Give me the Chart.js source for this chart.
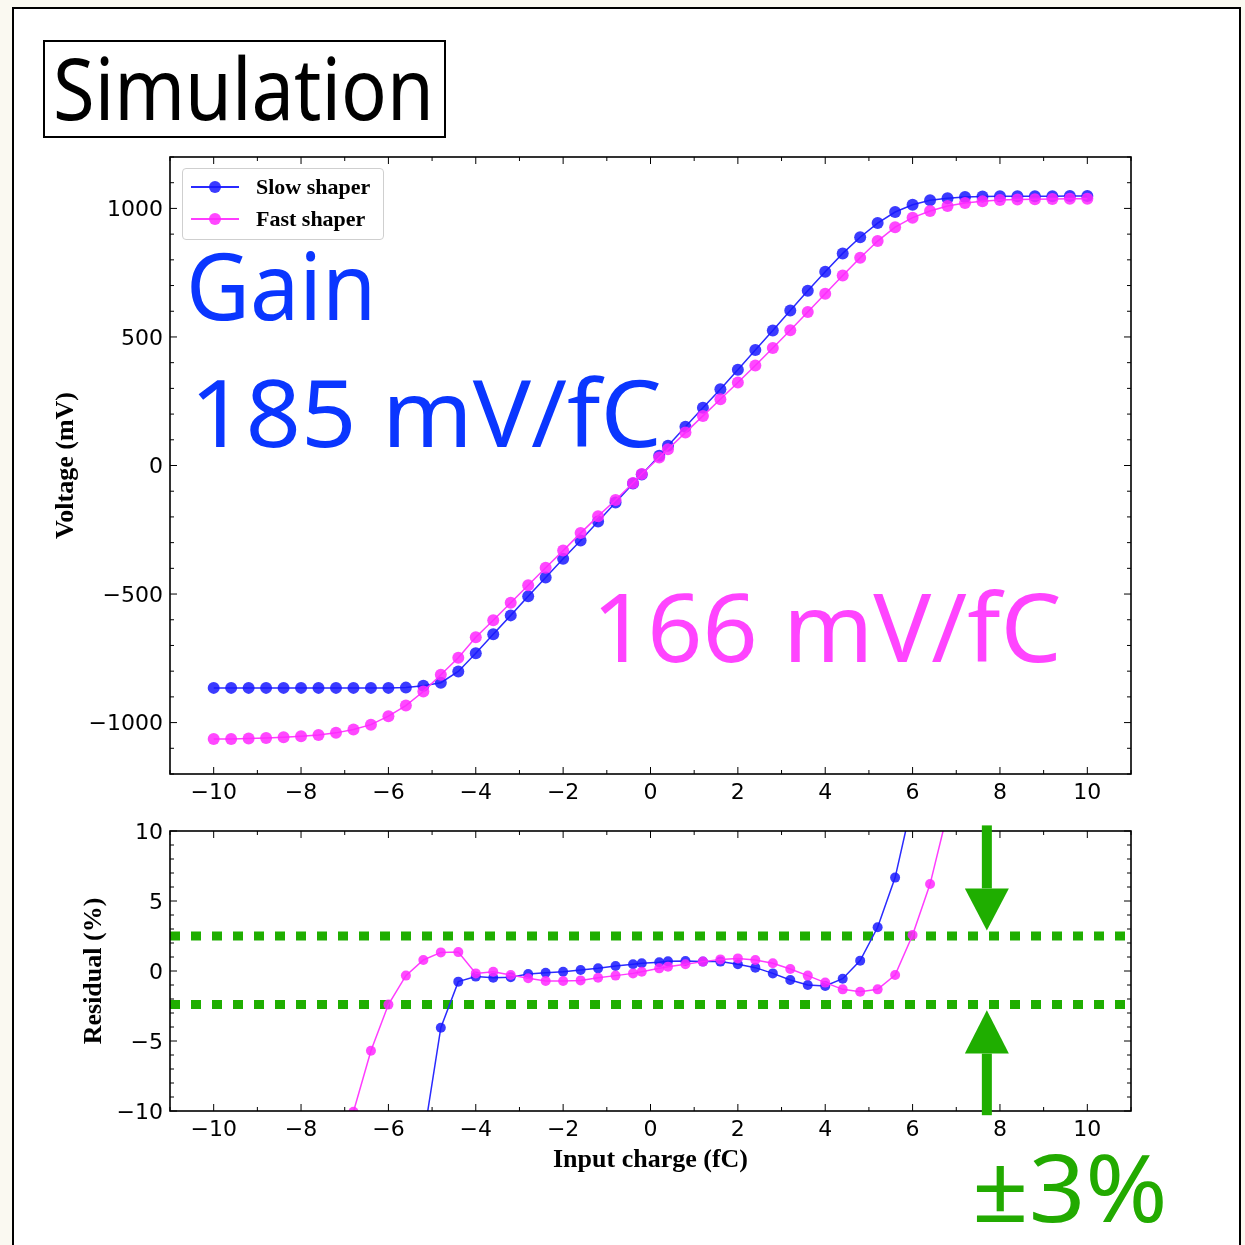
<!DOCTYPE html>
<html>
<head>
<meta charset="utf-8">
<script src="https://cdn.jsdelivr.net/npm/chart.js@4.4.1/dist/chart.umd.min.js"></script>
<style>
html, body { margin: 0; padding: 0; }
body { width: 1245px; height: 1245px; background: #faf9f1; position: relative; overflow: hidden; }
#panel { position: absolute; left: 12px; top: 7px; width: 1225px; height: 1260px; background: #fff; border: 2px solid #000; }
canvas { position: absolute; left: 0; }
#gainChart { top: 0; }
#residualChart { top: 820px; }
.big { position: absolute; white-space: nowrap; font-family: "Noto Sans", sans-serif; line-height: 1; transform-origin: 0 0; }
#simBox { position: absolute; left: 43px; top: 40px; width: 399px; height: 94px; border: 2px solid #000; background: #fff; }
#legend { position: absolute; left: 182px; top: 168px; width: 202px; height: 72px; border: 1px solid #cfcfcf; border-radius: 4px; background: rgba(255,255,255,0.85); box-sizing: border-box; }
#legend .row { position: absolute; left: 0; height: 30px; font-family: "Liberation Serif", serif; font-weight: bold; font-size: 22px; line-height: 30px; }
#legend .sw { position: absolute; left: 8px; top: 14px; width: 48px; height: 2px; }
#legend .dot { position: absolute; left: 26px; top: 9px; width: 12px; height: 12px; border-radius: 50%; }
#legend .lbl { position: absolute; left: 73px; top: 0; white-space: nowrap; }
</style>
</head>
<body>
<div id="panel"></div>
<div id="simBox"></div>
<div class="big" id="simText" style="font-size:85px;color:#000">Simulation</div>

<canvas id="gainChart" width="1245" height="820"></canvas>
<canvas id="residualChart" width="1245" height="425"></canvas>

<div id="legend"></div>
<div class="big" id="gainText" style="font-size:93px;color:#0a36ff">Gain</div>
<div class="big" id="slowGainText" style="font-size:93px;color:#0a36ff">185 mV/fC</div>
<div class="big" id="fastGainText" style="font-size:95px;color:#ff44ff">166 mV/fC</div>
<div class="big" id="bandText" style="font-size:93px;color:#22aa00">±3%</div>

<script>
// ===============================
// DATA
// ===============================

const charge = [-10, -9.6, -9.2, -8.8, -8.4, -8, -7.6, -7.2, -6.8, -6.4, -6, -5.6, -5.2, -4.8, -4.4, -4, -3.6, -3.2, -2.8, -2.4, -2, -1.6, -1.2, -0.8, -0.4, -0.2,
  0.2, 0.4, 0.8, 1.2, 1.6, 2, 2.4, 2.8, 3.2, 3.6, 4, 4.4, 4.8, 5.2, 5.6, 6, 6.4, 6.8, 7.2, 7.6, 8, 8.4, 8.8, 9.2, 9.6, 10];

const slowVoltage = [-865, -865, -865, -865, -865, -865, -865, -865, -865, -865, -865, -864, -857, -845, -801, -730, -656, -583, -509, -436, -363, -292, -218, -144, -70, -35,
  38, 77, 151, 225, 297, 372, 449, 525, 603, 680, 754, 825, 888, 943, 986, 1014, 1032, 1040, 1044, 1046, 1047, 1047, 1047, 1047, 1048, 1048];

const fastVoltage = [-1064, -1064, -1062, -1060, -1057, -1053, -1048, -1040, -1027, -1008, -975, -934, -879, -814, -748, -668, -602, -534, -466, -398, -331, -263, -197, -134, -68, -33,
  31, 63, 128, 193, 258, 323, 389, 457, 526, 597, 668, 739, 808, 873, 927, 964, 990, 1009, 1021, 1028, 1033, 1035, 1036, 1037, 1038, 1038];

const slowResidual = [-113, -105, -96, -88, -79, -71, -62, -54, -45, -36, -28, -19, -12, -4.05, -0.76, -0.4, -0.48, -0.45, -0.21, -0.12, -0.05, 0.07, 0.19, 0.36, 0.48, 0.55,
  0.62, 0.69, 0.71, 0.67, 0.67, 0.48, 0.24, -0.17, -0.64, -1.0, -1.07, -0.55, 0.74, 3.12, 6.67, 12.2, 15, 21, 28, 35, 42, 49, 56, 63, 70, 77];

const fastResidual = [-56, -50, -44, -38, -32, -26, -20, -15, -10.05, -5.7, -2.4, -0.33, 0.79, 1.33, 1.35, -0.17, -0.05, -0.29, -0.52, -0.71, -0.71, -0.67, -0.48, -0.33, -0.17, -0.05,
  0.19, 0.31, 0.48, 0.67, 0.83, 0.9, 0.79, 0.55, 0.14, -0.33, -0.83, -1.31, -1.48, -1.31, -0.29, 2.57, 6.21, 11.3, 17, 23, 28, 35, 41, 47, 54, 60];

const seriesNames = ["Slow shaper", "Fast shaper"];
const chargeTicks = [-10, -8, -6, -4, -2, 0, 2, 4, 6, 8, 10];
const voltageTicks = [-1000, -500, 0, 500, 1000];
const residualTicks = [-10, -5, 0, 5, 10];
const limitBand = [2.5, -2.4];

// annotation arrows (data units of the residual panel)
const arrowCharge = 7.7;
const downArrow = [10.4, 5.9, 2.9];   // tail, head base, tip
const upArrow = [-10.3, -5.9, -2.8];

// ===============================
// STYLE
// ===============================

const slowLine = "#2a2aff";
const slowDot = "rgba(25,25,255,0.85)";
const fastLine = "#ff3cff";
const fastDot = "rgba(255,40,255,0.85)";
const bandGreen = "#1fae00";

const tickFont = { family: "DejaVu Sans", size: 22 };
const titleFont = { family: "Liberation Serif", size: 26, weight: "bold" };

function fmtTick(v) {
  return String(v).replace("-", "\u2212");
}

function points(ys) {
  return charge.map((x, i) => ({ x: x, y: ys[i] }));
}

// ===============================
// FRAME + INWARD TICKS
// ===============================

const frameTicks = {
  id: "frameTicks",
  afterDraw(chart, args, opts) {
    const { ctx, chartArea: a } = chart;
    const sx = chart.scales.x, sy = chart.scales.y;
    ctx.save();
    ctx.strokeStyle = "#000";
    ctx.lineWidth = 1;
    ctx.beginPath();
    const major = 7, minor = 4;
    const xMajor = sx.ticks.map(t => t.value);
    const yMajor = sy.ticks.map(t => t.value);
    for (let v = Math.ceil(sx.min); v <= sx.max; v += opts.xMinor) {
      const px = sx.getPixelForValue(v);
      const len = xMajor.includes(v) ? major : minor;
      ctx.moveTo(px, a.bottom); ctx.lineTo(px, a.bottom - len);
      ctx.moveTo(px, a.top); ctx.lineTo(px, a.top + len);
    }
    for (let v = Math.ceil(sy.min / opts.yMinor) * opts.yMinor; v <= sy.max; v += opts.yMinor) {
      const py = sy.getPixelForValue(v);
      const len = yMajor.includes(v) ? major : minor;
      ctx.moveTo(a.left, py); ctx.lineTo(a.left + len, py);
      ctx.moveTo(a.right, py); ctx.lineTo(a.right - len, py);
    }
    ctx.stroke();
    ctx.lineWidth = 1.6;
    ctx.strokeRect(a.left, a.top, a.right - a.left, a.bottom - a.top);
    ctx.restore();
  }
};

// ===============================
// ARROWS
// ===============================

const bandArrows = {
  id: "bandArrows",
  afterDraw(chart) {
    const { ctx } = chart;
    const sx = chart.scales.x, sy = chart.scales.y;
    const cx = sx.getPixelForValue(arrowCharge);
    ctx.save();
    ctx.fillStyle = bandGreen;
    [downArrow, upArrow].forEach(arr => {
      const tail = sy.getPixelForValue(arr[0]);
      const base = sy.getPixelForValue(arr[1]);
      const tip = sy.getPixelForValue(arr[2]);
      ctx.fillRect(cx - 5, Math.min(tail, base), 10, Math.abs(base - tail));
      ctx.beginPath();
      ctx.moveTo(cx - 22, base);
      ctx.lineTo(cx + 22, base);
      ctx.lineTo(cx, tip);
      ctx.closePath();
      ctx.fill();
    });
    ctx.restore();
  }
};

function xScale(height, titleOpts) {
  return {
    type: "linear", min: -11, max: 11,
    grid: { display: false, drawTicks: false },
    border: { display: false },
    afterBuildTicks: s => { s.ticks = chargeTicks.map(v => ({ value: v })); },
    afterFit: s => { s.height = height; s.paddingLeft = 0; s.paddingRight = 0; },
    ticks: { font: tickFont, color: "#000", padding: 6, maxRotation: 0, callback: fmtTick },
    title: titleOpts
  };
}

function yScale(min, max, tickList, title, titlePad) {
  return {
    type: "linear", min: min, max: max,
    grid: { display: false, drawTicks: false },
    border: { display: false },
    afterBuildTicks: s => { s.ticks = tickList.map(v => ({ value: v })); },
    afterFit: s => { s.width = 170; s.paddingTop = 0; s.paddingBottom = 0; },
    ticks: { font: tickFont, color: "#000", padding: 7, labelOffset: 2, callback: fmtTick },
    title: { display: true, text: title, font: titleFont, color: "#000", padding: { top: titlePad, bottom: 0 } }
  };
}

function series(label, ys, line, dot, radius, order) {
  return {
    label: label, data: points(ys), order: order,
    borderColor: line, borderWidth: 1.5,
    pointRadius: radius, pointBackgroundColor: dot, pointBorderWidth: 0,
    tension: 0
  };
}

// ===============================
// GAIN CHART
// ===============================

new Chart(document.getElementById("gainChart"), {
  type: "line",
  data: {
    datasets: [
      series(seriesNames[0], slowVoltage, slowLine, slowDot, 6, 1),
      series(seriesNames[1], fastVoltage, fastLine, fastDot, 6, 0)
    ]
  },
  options: {
    responsive: false, animation: false,
    layout: { padding: { left: 0, top: 157, right: 114, bottom: 0 } },
    plugins: { legend: { display: false }, tooltip: { enabled: false }, frameTicks: { xMinor: 1, yMinor: 100 } },
    scales: {
      x: xScale(46, { display: false }),
      y: yScale(-1200, 1200, voltageTicks, "Voltage (mV)", 51)
    }
  },
  plugins: [frameTicks]
});

// ===============================
// RESIDUAL CHART
// ===============================

new Chart(document.getElementById("residualChart"), {
  type: "line",
  data: {
    datasets: [
      series(seriesNames[0], slowResidual, slowLine, slowDot, 5, 1),
      series(seriesNames[1], fastResidual, fastLine, fastDot, 5, 0),
      ...limitBand.map(v => ({
        label: "limit", order: 5,
        data: [{ x: -11, y: v }, { x: 11, y: v }],
        borderColor: bandGreen, borderWidth: 9, borderDash: [10, 11], borderCapStyle: "butt",
        pointRadius: 0
      }))
    ]
  },
  options: {
    responsive: false, animation: false,
    layout: { padding: { left: 0, top: 11, right: 114, bottom: 0 } },
    plugins: { legend: { display: false }, tooltip: { enabled: false }, frameTicks: { xMinor: 1, yMinor: 1 } },
    scales: {
      x: xScale(134, { display: true, text: "Input charge (fC)", font: titleFont, color: "#000", padding: { top: 0, bottom: 69 } }),
      y: yScale(-10, 10, residualTicks, "Residual (%)", 79)
    }
  },
  plugins: [frameTicks, bandArrows]
});

// ===============================
// LEGEND
// ===============================

const legend = document.getElementById("legend");
[[slowLine, slowDot], [fastLine, fastDot]].forEach((c, i) => {
  legend.innerHTML += `
    <div class="row" style="top:${3 + i * 32}px">
      <span class="sw" style="background:${c[0]}"></span>
      <span class="dot" style="background:${c[1]}"></span>
      <span class="lbl">${seriesNames[i]}</span>
    </div>`;
});

// ===============================
// BIG LABELS (left edge, baseline, ink width)
// ===============================

function placeText(id, left, baseline, width) {
  const el = document.getElementById(id);
  const probe = document.createElement("span");
  probe.style.cssText = "display:inline-block;width:0;height:0;vertical-align:baseline";
  el.appendChild(probe);
  el.style.left = left + "px";
  el.style.top = "0px";
  const w = el.offsetWidth;
  el.style.top = (baseline - probe.offsetTop) + "px";
  el.style.transform = "scaleX(" + (width / w) + ")";
}

placeText("simText", 53, 120, 381);
placeText("gainText", 186, 320, 190);
placeText("slowGainText", 190, 447, 472);
placeText("fastGainText", 592, 662, 470);
placeText("bandText", 972, 1222, 196);
</script>
</body>
</html>
